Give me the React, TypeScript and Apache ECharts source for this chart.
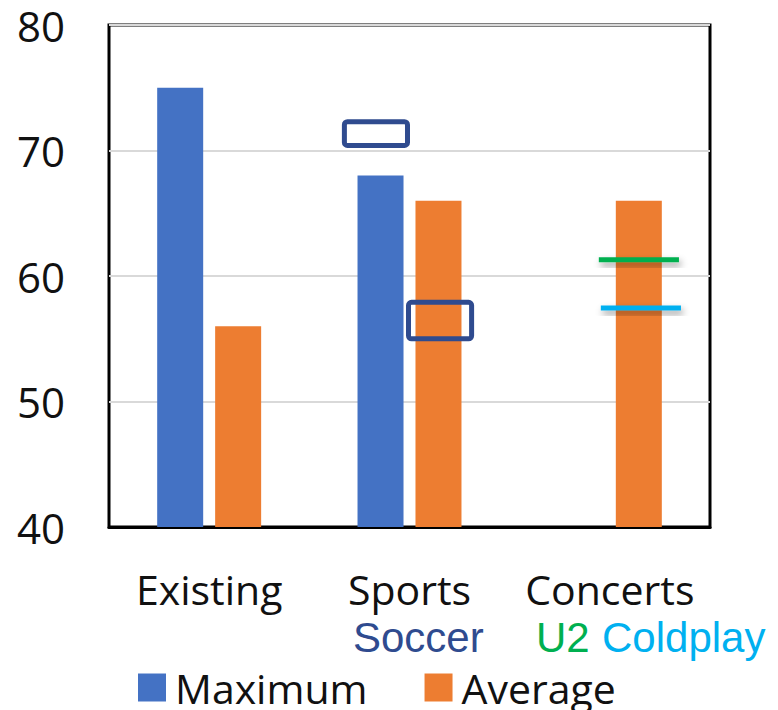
import React, { useEffect, useRef } from "react";
import * as echarts from "echarts";

// ---- data ----
const categories = ["Existing", "Sports", "Concerts"];
const seriesNames = ["Maximum", "Average"];
const maximumValues: (number | null)[] = [75, 68, null];
const averageValues: number[] = [56, 66, 66];
const yMin = 40;
const yMax = 80;
const yInterval = 10;

// value ranges boxed for the Soccer figures (low, high)
const soccerRanges: [number, number][] = [
  [70.4, 72.3],
  [55.0, 57.9],
];
// concert reference levels
const concertLevelNames = ["U2", "Coldplay"];
const concertLevels = [61.3, 57.45];

// ---- layout / style ----
const BLUE = "#4472C4";
const ORANGE = "#ED7D31";
const NAVY = "#2F4B8F";
const LEVEL_COLORS = ["#00B050", "#00B0F0"];
// horizontal spans on a 0..3 position scale (one unit per category)
const BOX_SPANS: [number, number][] = [
  [1.175, 1.49],
  [1.495, 1.81],
];
const LEVEL_SPANS: [number, number][] = [
  [2.445, 2.845],
  [2.455, 2.855],
];
const LEVEL_THICKNESS = 5;

const LABEL_FONT = "'Open Sans', 'Noto Sans', sans-serif";
const SUB_FONT = "'Liberation Sans', Arial, sans-serif";

export default function App() {
  const ref = useRef<HTMLDivElement>(null);

  useEffect(() => {
    if (!ref.current) return;
    const chart = echarts.init(ref.current, undefined, { renderer: "svg" });

    const boxData = soccerRanges.map((r, i) => [BOX_SPANS[i][0], BOX_SPANS[i][1], r[0], r[1]]);
    const levelData = concertLevels.map((v, i) => [LEVEL_SPANS[i][0], LEVEL_SPANS[i][1], v, i]);

    const subText = (text: string, left: number, color: string) => ({
      type: "text",
      left,
      top: 616,
      style: { text, fill: color, font: `42px ${SUB_FONT}`, lineHeight: 32 },
    });

    chart.setOption({
      animation: false,
      backgroundColor: "#ffffff",
      grid: {
        left: 109,
        right: 68,
        top: 25,
        bottom: 183,
        show: true,
        borderColor: "#000",
        borderWidth: 3,
        backgroundColor: "transparent",
      },
      legend: {
        data: seriesNames,
        left: 133,
        top: 662,
        icon: "rect",
        itemWidth: 28,
        itemHeight: 28,
        itemGap: 57,
        textStyle: {
          fontFamily: LABEL_FONT,
          fontSize: 41,
          color: "#111",
          padding: [0, 0, 0, 4],
        },
      },
      xAxis: [
        {
          type: "category",
          data: categories,
          position: "bottom",
          axisLine: { show: true, lineStyle: { color: "#000", width: 3 } },
          axisTick: { show: false },
          axisLabel: {
            interval: 0,
            fontFamily: LABEL_FONT,
            fontSize: 41,
            lineHeight: 32,
            color: "#111",
            margin: 46,
          },
          splitLine: { show: false },
        },
        {
          type: "value",
          position: "top",
          min: 0,
          max: 3,
          show: false,
        },
      ],
      yAxis: {
        type: "value",
        min: yMin,
        max: yMax,
        interval: yInterval,
        axisLine: { show: false },
        axisTick: { show: false },
        axisLabel: {
          fontFamily: LABEL_FONT,
          fontSize: 42,
          lineHeight: 32,
          color: "#111",
          margin: 44,
        },
        splitLine: { show: true, lineStyle: { color: "#D9D9D9", width: 2 } },
      },
      series: [
        {
          name: seriesNames[0],
          type: "bar",
          data: maximumValues,
          barWidth: 46,
          barGap: "26%",
          itemStyle: { color: BLUE },
        },
        {
          name: seriesNames[1],
          type: "bar",
          data: averageValues,
          barWidth: 46,
          itemStyle: { color: ORANGE },
        },
        {
          name: "Soccer",
          type: "custom",
          xAxisIndex: 1,
          yAxisIndex: 0,
          z: 5,
          data: boxData,
          encode: { x: [0, 1], y: [2, 3] },
          renderItem: (_params: any, api: any) => {
            const p0 = api.coord([api.value(0), api.value(3)]);
            const p1 = api.coord([api.value(1), api.value(2)]);
            return {
              type: "rect",
              shape: { x: p0[0], y: p0[1], width: p1[0] - p0[0], height: p1[1] - p0[1], r: 3 },
              style: { fill: "none", stroke: NAVY, lineWidth: 5 },
            };
          },
        },
        {
          name: "Concert levels",
          type: "custom",
          xAxisIndex: 1,
          yAxisIndex: 0,
          z: 5,
          data: levelData,
          encode: { x: [0, 1], y: 2 },
          renderItem: (_params: any, api: any) => {
            const a = api.coord([api.value(0), api.value(2)]);
            const b = api.coord([api.value(1), api.value(2)]);
            const idx = api.value(3);
            return {
              type: "rect",
              shape: {
                x: a[0],
                y: a[1] - LEVEL_THICKNESS / 2,
                width: b[0] - a[0],
                height: LEVEL_THICKNESS,
              },
              style: {
                fill: LEVEL_COLORS[idx],
                shadowColor: "rgba(0,0,0,0.4)",
                shadowBlur: 7,
                shadowOffsetX: 2,
                shadowOffsetY: 4,
              },
            };
          },
        },
      ],
      graphic: [
        subText("Soccer", 353, NAVY),
        subText(concertLevelNames[0], 536, LEVEL_COLORS[0]),
        subText(concertLevelNames[1], 602, LEVEL_COLORS[1]),
      ],
    });

    return () => chart.dispose();
  }, []);

  return (
    <div
      ref={ref}
      style={{ position: "fixed", left: 0, top: 0, width: 778, height: 710 }}
    />
  );
}
